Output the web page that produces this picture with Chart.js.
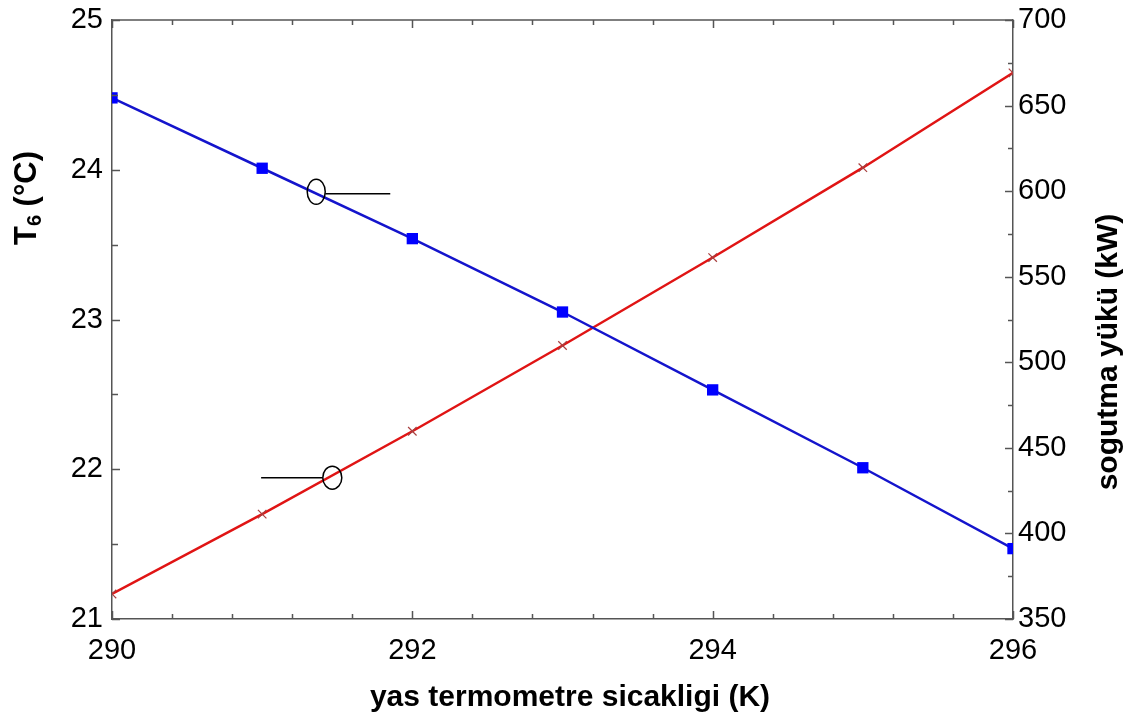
<!DOCTYPE html>
<html>
<head>
<meta charset="utf-8">
<script src="https://cdn.jsdelivr.net/npm/chart.js@4.4.1/dist/chart.umd.min.js"></script>
<style>
  html, body { margin: 0; padding: 0; background: #ffffff; }
  #wrap { width: 1134px; height: 724px; position: relative; }
</style>
</head>
<body>
<div id="wrap"><canvas id="chart"></canvas></div>
<script>
// Wet-bulb temperature (K)
const wetBulbK = [290, 291, 292, 293, 294, 295, 296];
// Outlet temperature T6 (°C), left axis
const t6Values = [24.48, 24.01, 23.54, 23.05, 22.53, 22.01, 21.47];
// Cooling load (kW), right axis
const coolingLoad = [364.6, 411.3, 459.7, 509.8, 561.2, 613.7, 669.1];

// Axis ranges and tick steps
const xRange = [290, 296], xMajorStep = 2, xMinorStep = 0.4;
const leftRange = [21, 25], leftMajorStep = 1, leftMinorStep = 0.5;
const rightRange = [350, 700], rightMajorStep = 50, rightMinorStep = 25;

// Axis titles
const xTitle = 'yas termometre sicakligi (K)';
const rightTitle = 'sogutma yükü (kW)';

const FONT = '"Liberation Sans", Arial, Helvetica, sans-serif';
const AXIS_COLOR = '#555555';
const TICK_FONT = 29;
const TITLE_FONT = 30;

function tickValues(min, max, step) {
  const out = [];
  const n = Math.round((max - min) / step);
  for (let i = 0; i <= n; i++) out.push(+(min + i * step).toFixed(6));
  return out;
}

// Vertical axes: let the plot area reach the layout padding at top and bottom
function fitVertical(width) {
  return function (scale) {
    scale.width = width;
    scale.paddingTop = 0;
    scale.paddingBottom = 0;
  };
}

// Inward tick marks on all four sides, top frame line, titles and series callouts
const framePlugin = {
  id: 'frame',
  afterDraw(chart) {
    const ctx = chart.ctx;
    const a = chart.chartArea;
    const sx = chart.scales.x, sl = chart.scales.yT6, sr = chart.scales.yLoad;
    ctx.save();
    ctx.strokeStyle = AXIS_COLOR;
    ctx.lineWidth = 1.5;
    // top frame line
    ctx.beginPath();
    ctx.moveTo(a.left, a.top);
    ctx.lineTo(a.right, a.top);
    ctx.stroke();

    const isMajor = (v, min, step) => Math.abs(((v - min) / step) - Math.round((v - min) / step)) < 1e-6;
    // x ticks (bottom and top)
    tickValues(xRange[0], xRange[1], xMinorStep).forEach(v => {
      const px = Math.round(sx.getPixelForValue(v)) + 0.5;
      const len = isMajor(v, xRange[0], xMajorStep) ? 8 : 5;
      ctx.beginPath();
      ctx.moveTo(px, a.bottom); ctx.lineTo(px, a.bottom - len);
      ctx.moveTo(px, a.top); ctx.lineTo(px, a.top + len);
      ctx.stroke();
    });
    // left ticks
    tickValues(leftRange[0], leftRange[1], leftMinorStep).forEach(v => {
      const py = Math.round(sl.getPixelForValue(v)) + 0.5;
      const len = isMajor(v, leftRange[0], leftMajorStep) ? 8 : 6;
      ctx.beginPath();
      ctx.moveTo(a.left, py); ctx.lineTo(a.left + len, py);
      ctx.stroke();
    });
    // right ticks
    tickValues(rightRange[0], rightRange[1], rightMinorStep).forEach(v => {
      const py = Math.round(sr.getPixelForValue(v)) + 0.5;
      const len = isMajor(v, rightRange[0], rightMajorStep) ? 8 : 5;
      ctx.beginPath();
      ctx.moveTo(a.right, py); ctx.lineTo(a.right - len, py);
      ctx.stroke();
    });

    // callout ellipses marking which axis each curve uses
    ctx.strokeStyle = '#000000';
    ctx.lineWidth = 1.5;
    const c1x = sx.getPixelForValue(291.36), c1y = sl.getPixelForValue(23.853);
    ctx.beginPath();
    ctx.ellipse(c1x, c1y, 9, 12.5, 0, 0, Math.PI * 2);
    ctx.stroke();
    ctx.beginPath();
    ctx.moveTo(c1x + 9, c1y + 2);
    ctx.lineTo(sx.getPixelForValue(291.853), c1y + 2);
    ctx.stroke();

    const c2x = sx.getPixelForValue(291.467), c2y = sr.getPixelForValue(432.6);
    ctx.beginPath();
    ctx.ellipse(c2x, c2y, 9.5, 11.5, 0, 0, Math.PI * 2);
    ctx.stroke();
    ctx.beginPath();
    ctx.moveTo(sx.getPixelForValue(290.993), c2y);
    ctx.lineTo(c2x - 9.5, c2y);
    ctx.stroke();

    // axis titles
    ctx.fillStyle = '#000000';
    ctx.font = 'bold ' + TITLE_FONT + 'px ' + FONT;
    ctx.textAlign = 'center';
    ctx.textBaseline = 'middle';
    ctx.fillText(xTitle, 570, 698);

    ctx.save();
    ctx.translate(1109, 352);
    ctx.rotate(-Math.PI / 2);
    ctx.fillText(rightTitle, 0, 0);
    ctx.restore();

    // left title with subscript: T6 (°C)
    ctx.save();
    ctx.translate(25, 198);
    ctx.rotate(-Math.PI / 2);
    const big = 'bold ' + (TITLE_FONT + 1) + 'px ' + FONT, small = 'bold 20px ' + FONT;
    ctx.font = big; const wT = ctx.measureText('T').width;
    ctx.font = small; const w6 = ctx.measureText('6').width;
    ctx.font = big; const wRest = ctx.measureText(' (°C)').width;
    let x0 = -(wT + w6 + wRest) / 2;
    ctx.textAlign = 'left';
    ctx.textBaseline = 'alphabetic';
    ctx.font = big; ctx.fillText('T', x0, 11);
    ctx.font = small; ctx.fillText('6', x0 + wT, 16);
    ctx.font = big; ctx.fillText(' (°C)', x0 + wT + w6, 11);
    ctx.restore();

    ctx.restore();
  }
};

new Chart(document.getElementById('chart'), {
  type: 'line',
  data: {
    datasets: [
      {
        label: 'T6',
        data: wetBulbK.map((x, i) => ({ x, y: t6Values[i] })),
        yAxisID: 'yT6',
        borderColor: '#1414cc',
        borderWidth: 2.5,
        pointStyle: 'rect',
        pointRadius: 8,
        pointBackgroundColor: '#0000ff',
        pointBorderColor: '#0000ff',
        pointBorderWidth: 0,
        tension: 0,
        clip: 0
      },
      {
        label: 'sogutma yükü',
        data: wetBulbK.map((x, i) => ({ x, y: coolingLoad[i] })),
        yAxisID: 'yLoad',
        borderColor: '#e01414',
        borderWidth: 2.5,
        pointStyle: 'crossRot',
        pointRadius: 6,
        pointBorderColor: '#a84040',
        pointBorderWidth: 1.2,
        tension: 0,
        clip: 0
      }
    ]
  },
  options: {
    responsive: true,
    maintainAspectRatio: false,
    animation: false,
    devicePixelRatio: 1,
    layout: { padding: { top: 20, left: 0, right: 0, bottom: 0 } },
    plugins: { legend: { display: false }, tooltip: { enabled: false } },
    scales: {
      x: {
        type: 'linear',
        min: xRange[0], max: xRange[1],
        ticks: {
          stepSize: xMajorStep,
          color: '#000000',
          font: { family: FONT, size: TICK_FONT },
          padding: 15
        },
        grid: { drawOnChartArea: false, drawTicks: false },
        border: { display: true, color: AXIS_COLOR, width: 1.5 },
        afterFit(scale) { scale.height = 105; }
      },
      yT6: {
        type: 'linear',
        position: 'left',
        min: leftRange[0], max: leftRange[1],
        ticks: {
          stepSize: leftMajorStep,
          color: '#000000',
          font: { family: FONT, size: TICK_FONT },
          padding: 9
        },
        grid: { drawOnChartArea: false, drawTicks: false },
        border: { display: true, color: AXIS_COLOR, width: 1.5 },
        afterFit: fitVertical(112)
      },
      yLoad: {
        type: 'linear',
        position: 'right',
        min: rightRange[0], max: rightRange[1],
        ticks: {
          stepSize: rightMajorStep,
          color: '#000000',
          font: { family: FONT, size: TICK_FONT },
          padding: 5
        },
        grid: { drawOnChartArea: false, drawTicks: false },
        border: { display: true, color: AXIS_COLOR, width: 1.5 },
        afterFit: fitVertical(121)
      }
    }
  },
  plugins: [framePlugin]
});
</script>
</body>
</html>
